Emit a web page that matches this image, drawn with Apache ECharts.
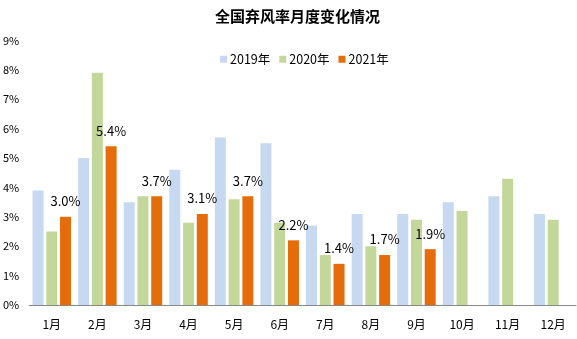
<!DOCTYPE html>
<html><head><meta charset="utf-8">
<script src="https://cdn.jsdelivr.net/npm/echarts@6/dist/echarts.min.js"></script>
<style>html,body{margin:0;padding:0;background:#fff}#c{width:577px;height:339px}</style>
</head><body><div id="c"></div>
<script>
var categories = ['1月','2月','3月','4月','5月','6月','7月','8月','9月','10月','11月','12月'];
var seriesNames = ['2019年','2020年','2021年'];
var v2019 = [3.9,5.0,3.5,4.6,5.7,5.5,2.7,3.1,3.1,3.5,3.7,3.1];
var v2020 = [2.5,7.9,3.7,2.8,3.6,2.8,1.7,2.0,2.9,3.2,4.3,2.9];
var v2021 = [3.0,5.4,3.7,3.1,3.7,2.2,1.4,1.7,1.9,null,null,null];
var yTicks = [0,1,2,3,4,5,6,7,8,9];

var font = '"Noto Sans CJK SC", sans-serif';
var chart = echarts.init(document.getElementById('c'));
chart.setOption({
  animation:false,
  title:{text:'全国弃风率月度变化情况',left:210,top:4,textStyle:{fontSize:15,fontWeight:'bold',color:'#000',fontFamily:font}},
  legend:{data:seriesNames,left:215,top:48,itemWidth:7,itemHeight:7,itemGap:9,icon:'rect',textStyle:{fontSize:12.5,color:'#000',fontFamily:font,padding:[0,0,0,-2]}},
  grid:{left:29,right:1,top:40.5,bottom:34,containLabel:false},
  xAxis:{type:'category',data:categories,axisTick:{show:false},axisLine:{lineStyle:{color:'#888'}},
    axisLabel:{color:'#000',fontSize:12,margin:13,fontFamily:font}},
  yAxis:{type:'value',min:yTicks[0],max:yTicks[yTicks.length-1],interval:1,splitLine:{show:false},
    axisLabel:{formatter:'{value}%',color:'#000',fontSize:11,align:'left',margin:26,fontFamily:font}},
  series:[
    {name:seriesNames[0],type:'bar',data:v2019,barWidth:11,barGap:'25%',itemStyle:{color:'#C6D9F1'}},
    {name:seriesNames[1],type:'bar',data:v2020,barWidth:11,barGap:'25%',itemStyle:{color:'#C4D79B'}},
    {name:seriesNames[2],type:'bar',data:v2021,barWidth:11,barGap:'25%',itemStyle:{color:'#E46C0A'},
      label:{show:true,position:'top',distance:9,formatter:function(p){return p.value.toFixed(1)+'%';},color:'#000',fontSize:13,fontFamily:font}}
  ]
});
</script></body></html>
